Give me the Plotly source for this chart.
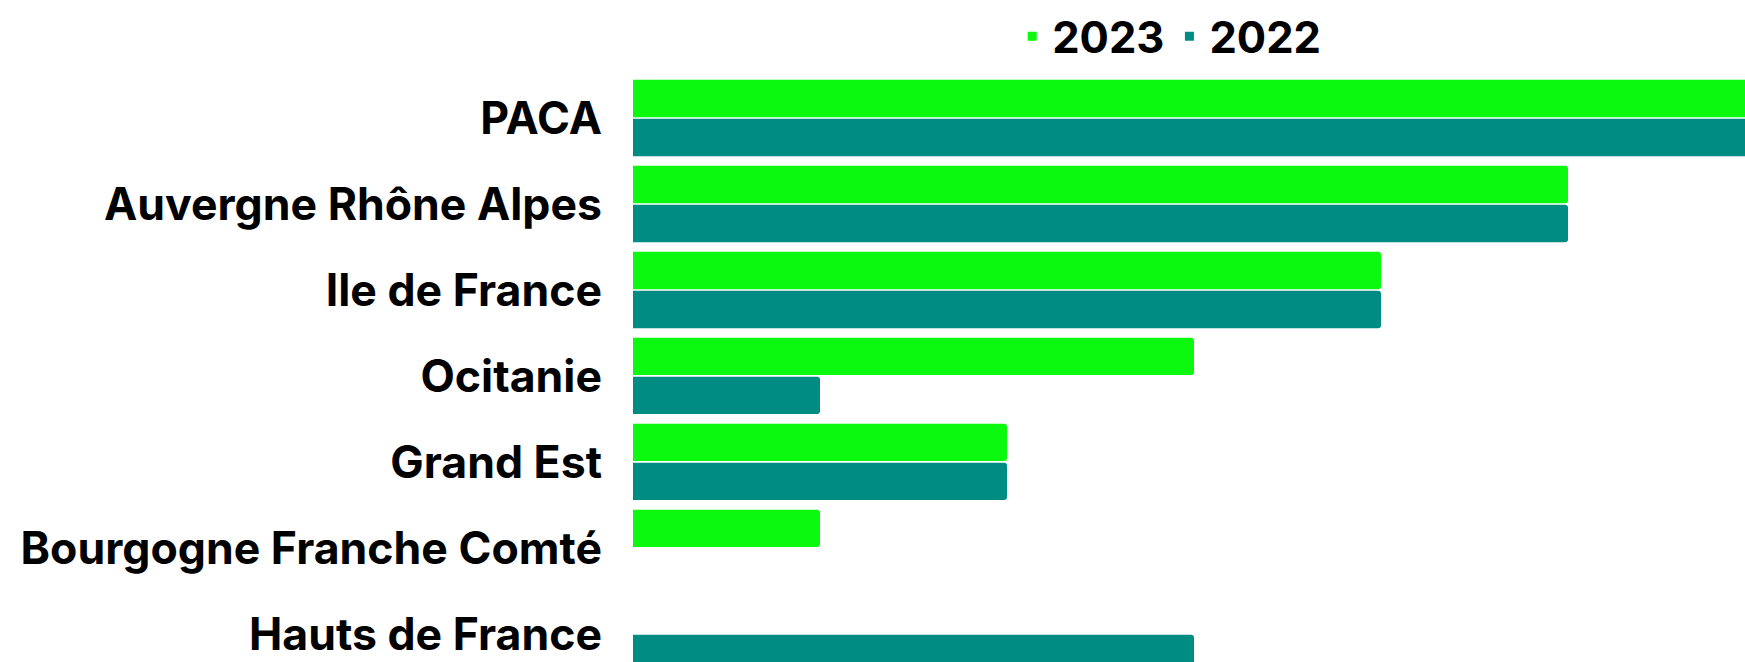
import plotly.graph_objects as go

categories = ["PACA", "Auvergne Rhône Alpes", "Ile de France", "Ocitanie",
              "Grand Est", "Bourgogne Franche Comté", "Hauts de France"]
values_2023 = [6, 5, 4, 3, 2, 1, 0]
values_2022 = [6, 5, 4, 1, 2, 0, 3]

GREEN = "#0AF90E"
TEAL = "#008C82"
FONT = "Inter"

fig = go.Figure()
fig.add_trace(go.Bar(y=categories, x=values_2023, orientation="h", name="2023",
                     marker=dict(color=GREEN, line=dict(width=0), cornerradius=3),
                     showlegend=False))
fig.add_trace(go.Bar(y=categories, x=values_2022, orientation="h", name="2022",
                     marker=dict(color=TEAL, line=dict(width=0), cornerradius=3),
                     showlegend=False))
# legend entries
for nm, col in [("2023", GREEN), ("2022", TEAL)]:
    fig.add_trace(go.Scatter(x=[None], y=[None], mode="markers", name=nm,
                             marker=dict(symbol="square", size=9, color=col)))

fig.update_layout(
    width=1745, height=662,
    margin=dict(l=633, r=0, t=75, b=0, autoexpand=False),
    paper_bgcolor="white", plot_bgcolor="white",
    barmode="group", bargap=0.093, bargroupgap=0.044,
    font=dict(family=FONT, color="black"),
    legend=dict(orientation="h", x=0.341, xanchor="left", y=1.006, yanchor="bottom",
                font=dict(size=43.5, family=FONT, weight="bold"),
                itemwidth=30, tracegroupgap=0, bgcolor="rgba(0,0,0,0)"),
    xaxis=dict(range=[0, 1112 / 187], showgrid=False, zeroline=False,
               showticklabels=False, showline=False, fixedrange=True),
    yaxis=dict(range=[6.326, -0.5], showgrid=False, zeroline=False, showline=False,
               tickfont=dict(size=44.6, family=FONT, weight="bold", color="black"),
               ticklabelstandoff=30, ticks="", fixedrange=True),
)

fig.write_html(
    "out.html",
    config={"displayModeBar": False, "staticPlot": True},
    post_script="document.body.style.margin='0';document.body.style.overflow='hidden';"
                "document.documentElement.style.overflow='hidden';",
)
